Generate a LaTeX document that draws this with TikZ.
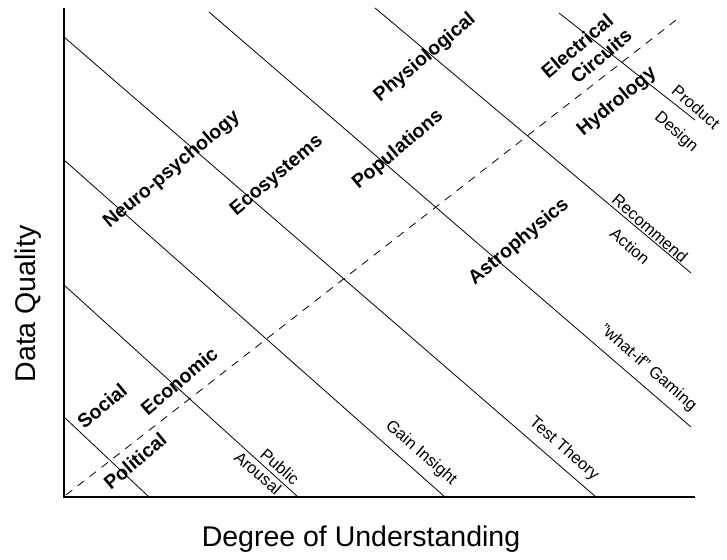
\documentclass[tikz,border=0pt]{standalone}
\usepackage{fontspec}
\setmainfont{Liberation Sans}
\begin{document}
\begin{tikzpicture}[x=1pt,y=-1pt,
  ax/.style={line width=1.1pt},
  ln/.style={line width=0.8pt},
  dl/.style={line width=0.8pt, dash pattern=on 8pt off 7pt},
  bl/.style={font=\fontsize{19.5}{21}\selectfont\bfseries, rotate=40, inner sep=0pt},
  rl/.style={font=\fontsize{16.5}{18}\selectfont, rotate=-41, inner sep=0pt},
  axl/.style={font=\fontsize{28.5}{31}\selectfont, inner sep=0pt}]
\useasboundingbox (0,0) rectangle (727,559);
% axes
\coordinate (o) at (64,497);
\coordinate (ytop) at (64,8);
\coordinate (xend) at (695,497);
\draw[ax] (ytop) -- (o) -- (xend);
% diagonal lines
\coordinate (a1) at (64,417);  \coordinate (b1) at (149,497);
\coordinate (a2) at (64,285);  \coordinate (b2) at (298,497);
\coordinate (a3) at (64,160);  \coordinate (b3) at (445,497);
\coordinate (a4) at (64,37);   \coordinate (b4) at (596,497);
\coordinate (a5) at (209,12);  \coordinate (b5) at (691,427);
\coordinate (a6) at (375,8);   \coordinate (b6) at (691,273);
\coordinate (a7) at (559,13);  \coordinate (b7) at (695,120);
\foreach \i in {1,...,7} { \draw[ln] (a\i) -- (b\i); }
% dashed line
\coordinate (d1) at (66,495);
\coordinate (d2) at (680,17);
\draw[dl] (d1) -- (d2);
% bold labels
\node[bl] (neuro) at (172,170) {Neuro-psychology};
\node[bl] (eco) at (277,176) {Ecosystems};
\node[bl] (phys) at (425,58) {Physiological};
\node[bl] (pop) at (398,150) {Populations};
\node[bl] (elec) at (577,46) {Electrical};
\node[bl] (circ) at (601,56) {Circuits};
\node[bl] (hydro) at (617,102) {Hydrology};
\node[bl] (astro) at (519,242) {Astrophysics};
\node[bl] (econ) at (179,381) {Economic};
\node[bl] (soc) at (102,406) {Social};
\node[bl] (pol) at (135,461) {Political};
% regular labels
\node[rl] (prod) at (696,107) {Product};
\node[rl] (des) at (676,132) {Design};
\node[rl] (rec) at (650,228) {Recommend};
\node[rl] (act) at (630,246) {Action};
\node[rl] (what) at (648,368) {"what-if" Gaming};
\node[rl] (test) at (564,449) {Test Theory};
\node[rl] (gain) at (421,453) {Gain Insight};
\node[rl] (pub) at (280,467) {Public};
\node[rl] (aro) at (258,473) {Arousal};
% axis labels
\node[axl, rotate=90] (ylab) at (28,304) {Data Quality};
\node[axl] (xlab) at (361,539) {Degree of Understanding};
\end{tikzpicture}
\end{document}
